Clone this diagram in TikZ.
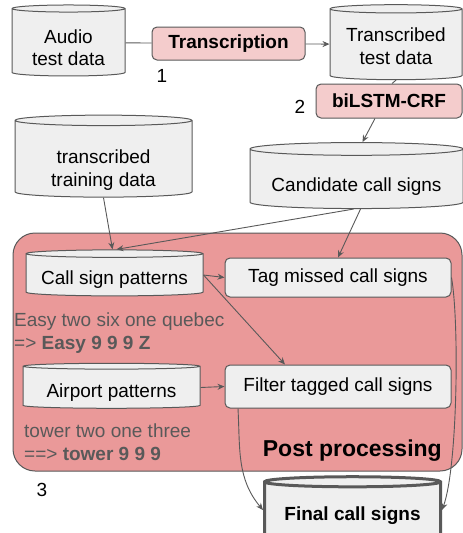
\documentclass[tikz,border=0pt]{standalone}
\usepackage{fontspec}
\setmainfont{Liberation Sans}
\usetikzlibrary{shapes.geometric,arrows.meta}
\definecolor{boxpink}{HTML}{F4CCCC}
\definecolor{postred}{HTML}{EA9999}
\definecolor{drumgray}{HTML}{EFEFEF}
\definecolor{linegray}{HTML}{595959}
\tikzset{
  drum/.style={cylinder, shape border rotate=90, draw=linegray, fill=drumgray,
    line width=1pt, inner sep=0pt, align=center},
  drop/.style 2 args={text height=#1, text depth=#2},
  stepbox/.style={rectangle, rounded corners=5pt, draw=linegray, fill=drumgray,
    line width=1pt, inner sep=0pt},
  modelbox/.style={stepbox, fill=boxpink, font=\fontsize{19}{22.7}\selectfont\bfseries},
  example/.style={anchor=base west, align=left, text=linegray, inner sep=0pt},
  flow/.style={draw=linegray, line width=0.9pt, -{Stealth[length=7pt,width=6pt]}},
}
\begin{document}
\begin{tikzpicture}[x=1pt,y=1pt,font=\fontsize{19}{22.7}\selectfont]
      \clip (0,0) rectangle (463,-533);
      % top row
      \node[drum, drop={46.4pt}{0pt}, minimum width=113, minimum height=71, aspect=0.097] (audio) at (68.5,-42.5) {Audio\\test data};
      \node[modelbox, minimum width=153, minimum height=33] (trans) at (228.5,-43.5) {Transcription};
      \node[drum, drop={39.8pt}{0pt}, minimum width=132, minimum height=75, aspect=0.083] (ttest) at (396,-44.5) {Transcribed\\test data};
      \node[modelbox, minimum width=146, minimum height=34] (bilstm) at (389,-101) {biLSTM-CRF};
      \node (one) at (162,-76) {1};
      \node (two) at (300,-107) {2};
      % middle row
      \node[drum, drop={54pt}{0pt}, minimum width=177, minimum height=82, aspect=0.10] (train) at (103.5,-159) {transcribed\\training data};
      \node[drum, drop={25.4pt}{0pt}, minimum width=213, minimum height=66, aspect=0.075] (cand) at (356.5,-179) {Candidate call signs};
      % post processing
      \node[rectangle, rounded corners=22pt, draw=linegray, fill=postred, line width=1pt,
        minimum width=449, minimum height=238] (post) at (237.5,-352) {};
      \node[drum, drop={18.6pt}{0pt}, minimum width=177, minimum height=46, aspect=0.051] (callpat) at (114.5,-275) {Call sign patterns};
      \node[stepbox, minimum width=226, minimum height=39] (tag) at (338,-277.5) {Tag missed call signs};
      \node[example] (easy) at (14,-349.3) {Easy two six one quebec\\=> \textbf{Easy 9 9 9 Z}};
      \node[drum, drop={19.6pt}{0pt}, minimum width=177, minimum height=45, aspect=0.045] (airport) at (111.5,-387.5) {Airport patterns};
      \node[stepbox, minimum width=226, minimum height=43] (filter) at (338,-386.5) {Filter tagged call signs};
      \node[example] (tower) at (24,-460) {tower two one three\\==> \textbf{tower 9 9 9}};
      \node[anchor=base east, inner sep=0pt, font=\fontsize{23}{27}\selectfont\bfseries] (postlabel) at (442,-456.5) {Post processing};
      % bottom
      \node (three) at (42,-490) {3};
      \node[drum, drop={0pt}{4pt}, line width=3pt, minimum width=176, minimum height=84, aspect=0.074,
        font=\fontsize{19}{22.7}\selectfont\bfseries] (final) at (352.5,-522) {Final call signs};
      \begin{scope}[flow]
        \draw[-] (audio) -- (trans);
        \draw (trans) -- (ttest);
        \draw[-] (ttest.south) -- ([xshift=3]bilstm.north);
        \draw ([xshift=-14]bilstm.south) -- ([xshift=6]cand.north);
        \draw (train.south) -- ([xshift=-2]callpat.north);
        \draw ([xshift=-3]cand.south) -- ([xshift=2]callpat.north);
        \draw ([xshift=4]cand.south) -- (tag.north);
        \draw (callpat.east) -- (tag.west);
        \draw (callpat.east) -- ([xshift=-53]filter.north);
        \draw (airport.east) -- (filter.west);
        \draw ([xshift=-100]filter.south) to[out=-87,in=130] ([yshift=12]final.west);
        \draw (tag.east) to[out=-80,in=70,looseness=0.5] ([yshift=12]final.east);
      \end{scope}
\end{tikzpicture}
\end{document}
